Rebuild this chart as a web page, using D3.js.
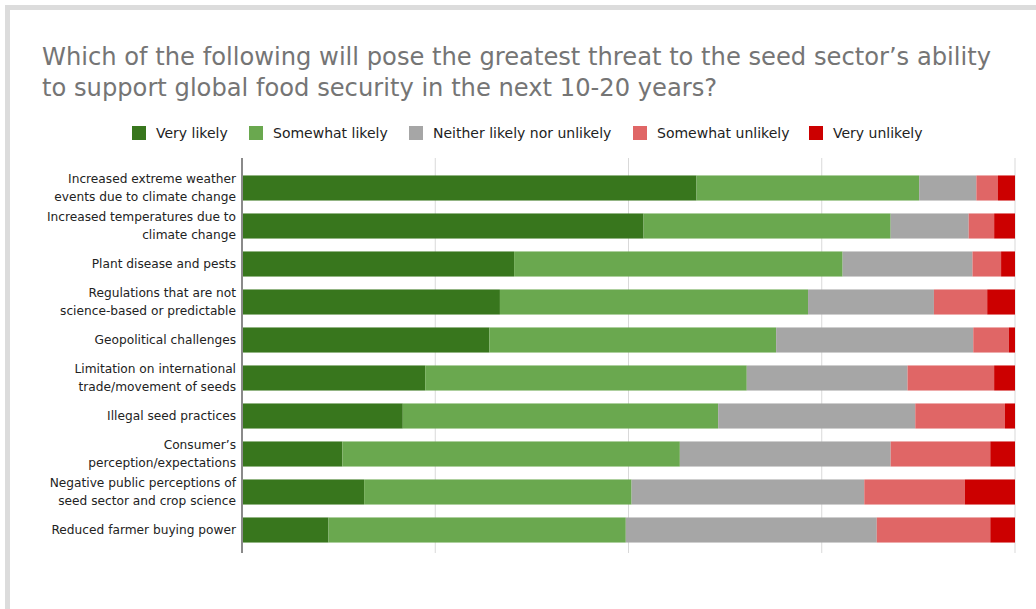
<!DOCTYPE html>
<html><head><meta charset="utf-8">
<script src="https://cdn.jsdelivr.net/npm/d3@7"></script>
<style>
html,body{margin:0;padding:0;background:#fff;}
svg{display:block;}
text{font-family:Verdana,"DejaVu Sans",sans-serif;}
</style></head>
<body>
<svg id="chart" width="1036" height="609"></svg>
<script>
const categories = [
  ["Increased extreme weather", "events due to climate change"],
  ["Increased temperatures due to", "climate change"],
  ["Plant disease and pests"],
  ["Regulations that are not", "science-based or predictable"],
  ["Geopolitical challenges"],
  ["Limitation on international", "trade/movement of seeds"],
  ["Illegal seed practices"],
  ["Consumer’s", "perception/expectations"],
  ["Negative public perceptions of", "seed sector and crop science"],
  ["Reduced farmer buying power"]
];
const seriesNames = ["Very likely", "Somewhat likely", "Neither likely nor unlikely", "Somewhat unlikely", "Very unlikely"];
const veryLikely      = [58.8, 52.0, 35.2, 33.4, 32.0, 23.7, 20.8, 13.0, 15.8, 11.2];
const somewhatLikely  = [28.8, 32.0, 42.5, 39.9, 37.1, 41.6, 40.8, 43.7, 34.6, 38.5];
const neither         = [ 7.4, 10.1, 16.8, 16.3, 25.5, 20.8, 25.5, 27.3, 30.1, 32.5];
const somewhatUnlikely= [ 2.8,  3.3,  3.7,  6.9,  4.6, 11.2, 11.6, 12.9, 13.0, 14.7];
const veryUnlikely    = [ 2.2,  2.7,  1.8,  3.6,  0.8,  2.7,  1.3,  3.2,  6.5,  3.2];
const xTicks = [0, 25, 50, 75, 100];
const colors = ["#38761d", "#6aa84f", "#a6a6a6", "#e06666", "#cc0000"];
const titleLines = ["Which of the following will pose the greatest threat to the seed sector’s ability",
                    "to support global food security in the next 10-20 years?"];

const svg = d3.select("#chart");
// frame
svg.append("rect").attr("x", 7.5).attr("y", 7.5).attr("width", 1100).attr("height", 700)
  .attr("fill", "#fff").attr("stroke", "#dcdcdc").attr("stroke-width", 5);

// title
svg.append("g").selectAll("text").data(titleLines).join("text")
  .attr("x", 42).attr("y", (d, i) => 65 + i * 31)
  .attr("fill", "#757575").attr("font-size", 24.2).text(d => d);

const rows = categories.map((c, i) => {
  const vals = [veryLikely[i], somewhatLikely[i], neither[i], somewhatUnlikely[i], veryUnlikely[i]];
  const tot = d3.sum(vals);
  const obj = {idx: i};
  seriesNames.forEach((s, k) => obj[s] = vals[k] / tot * 100);
  return obj;
});
const stack = d3.stack().keys(seriesNames)(rows);

const x = d3.scaleLinear().domain([0, 100]).range([242, 1015]);
const y = d3.scaleBand().domain(d3.range(categories.length)).range([169, 549]).paddingInner(0.34).paddingOuter(0.17);

// gridlines
svg.append("g").selectAll("line").data(xTicks.slice(1)).join("line")
  .attr("x1", d => x(d)).attr("x2", d => x(d)).attr("y1", 158).attr("y2", 553)
  .attr("stroke", "#d9d9d9").attr("stroke-width", 1);

// bars
svg.append("g").selectAll("g").data(stack).join("g")
  .attr("fill", (d, i) => colors[i])
  .selectAll("rect").data(d => d).join("rect")
  .attr("x", d => x(d[0])).attr("width", d => x(d[1]) - x(d[0]))
  .attr("y", d => y(d.data.idx)).attr("height", y.bandwidth());

// axis line
svg.append("line").attr("x1", x(0)).attr("x2", x(0)).attr("y1", 158).attr("y2", 553)
  .attr("stroke", "#8a8a8a").attr("stroke-width", 2);

// y labels
const lab = svg.append("g").selectAll("text").data(categories).join("text")
  .attr("text-anchor", "end").attr("font-size", 12.2).attr("fill", "#222");
lab.each(function(d, i) {
  const cy = y(i) + y.bandwidth() / 2;
  const n = d.length;
  d3.select(this).selectAll("tspan").data(d).join("tspan")
    .attr("x", 236).attr("y", (t, j) => cy + 4 + (j - (n - 1) / 2) * 17.5).text(t => t);
});

// legend
const legX = [132, 249, 409, 633, 809];
const leg = svg.append("g").selectAll("g").data(seriesNames).join("g")
  .attr("transform", (d, i) => `translate(${legX[i]},126)`);
leg.append("rect").attr("width", 14).attr("height", 14).attr("fill", (d, i) => colors[i]);
leg.append("text").attr("x", 24).attr("y", 12).attr("font-size", 14).attr("fill", "#222").text(d => d);
</script>
</body></html>
